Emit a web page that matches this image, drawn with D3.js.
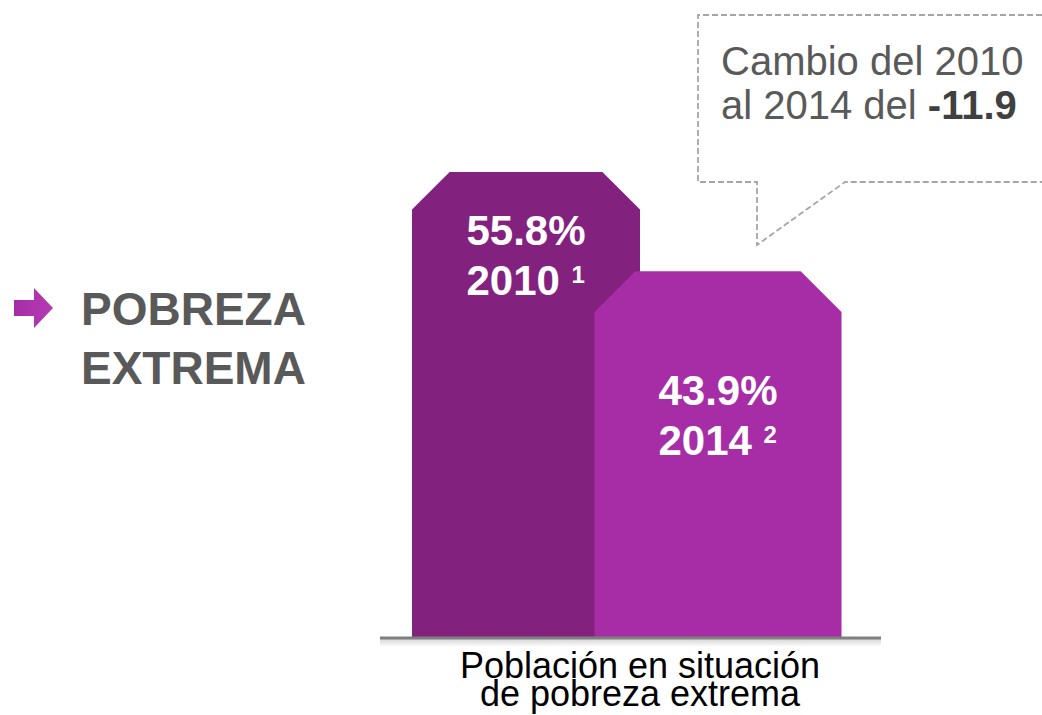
<!DOCTYPE html>
<html>
<head>
<meta charset="utf-8">
<script src="https://cdn.jsdelivr.net/npm/d3@7"></script>
<style>
  body { margin: 0; background: #fff; }
  svg { font-family: "Liberation Sans", Arial, sans-serif; display: block; }
</style>
</head>
<body>
<script>
// data
var years = ["2010", "2014"]
var values = [55.8, 43.9]
var notes = ["1", "2"]
var barColors = ["#83217f", "#a72da6"]
var category = ["Población en situación", "de pobreza extrema"]
var title = ["POBREZA", "EXTREMA"]
var change = -11.9

var svgWidth = 1042
var svgHeight = 715

var fmt = d3.formatLocale({decimal: ".", thousands: ",", grouping: [3], currency: ["", ""], minus: "-"}).format(".1f")

var svg = d3.select("body")
    .append("svg")
    .attr("width", svgWidth)
    .attr("height", svgHeight)

// scales
var y = d3.scaleLinear().domain([0, 60]).range([637, 137])
var x = d3.scalePoint().domain(years).range([526, 718])
var barWidths = [228, 247]
var labelOffsets = [73, 134]

var defs = svg.append("defs")
var shadow = defs.append("linearGradient")
    .attr("id", "shadow").attr("x1", 0).attr("x2", 0).attr("y1", 0).attr("y2", 1)
shadow.append("stop").attr("offset", "0%").attr("stop-color", "#000").attr("stop-opacity", 0.16)
shadow.append("stop").attr("offset", "100%").attr("stop-color", "#000").attr("stop-opacity", 0)

var arrowGrad = defs.append("linearGradient")
    .attr("id", "arrowGrad").attr("x1", 0).attr("x2", 1)
arrowGrad.append("stop").attr("offset", "0%").attr("stop-color", "#a72da6")
arrowGrad.append("stop").attr("offset", "100%").attr("stop-color", "#b43cb3")

// bars with chamfered tops
function barPath(d, i) {
    var w = barWidths[i]
    var l = x(years[i]) - w / 2, r = l + w
    var t = y(d), b = y(0)
    var c = w * 0.165
    return "M" + l + "," + b + "L" + l + "," + (t + c) + "L" + (l + c) + "," + t +
        "L" + (r - c) + "," + t + "L" + r + "," + (t + c) + "L" + r + "," + b + "Z"
}

svg.selectAll(".bar")
    .data(values)
    .enter().append("path")
    .attr("class", "bar")
    .attr("d", barPath)
    .attr("fill", (d, i) => barColors[i])

// value labels
svg.selectAll(".lbl")
    .data(values)
    .enter().append("g")
    .attr("class", "lbl")
    .each(function(d, i) {
        var g = d3.select(this)
        var cx = x(years[i])
        var ty = y(d) + labelOffsets[i]
        var v = g.append("text")
            .attr("x", cx)
            .attr("y", ty)
            .attr("text-anchor", "middle")
            .attr("fill", "#fff")
            .attr("font-weight", "bold")
            .attr("font-size", 42)
            .text(fmt(d) + "%")
        var left = cx - v.node().getComputedTextLength() / 2
        var yr = g.append("text")
            .attr("x", left)
            .attr("y", ty + 50)
            .attr("fill", "#fff")
            .attr("font-weight", "bold")
            .attr("font-size", 42)
        yr.append("tspan").text(years[i] + " ")
        yr.append("tspan")
            .attr("font-size", 24)
            .attr("dy", -12)
            .text(notes[i])
    })

// baseline with soft shadow
svg.append("rect")
    .attr("x", 380).attr("y", y(0) + 2)
    .attr("width", 501).attr("height", 8)
    .attr("fill", "url(#shadow)")
svg.append("line")
    .attr("x1", 380).attr("x2", 881)
    .attr("y1", y(0) + 1).attr("y2", y(0) + 1)
    .attr("stroke", "#7f7f7f")
    .attr("stroke-width", 3)

// category label
svg.append("g").selectAll("text")
    .data(category)
    .enter().append("text")
    .attr("x", 640)
    .attr("y", (d, i) => 678 + i * 28)
    .attr("text-anchor", "middle")
    .attr("font-size", 36)
    .attr("fill", "#000")
    .text(d => d)

// title with arrow
svg.append("path")
    .attr("d", "M14,300L34,300L34,288L53,308L34,328L34,316L14,316Z")
    .attr("fill", "url(#arrowGrad)")

svg.append("g").selectAll("text")
    .data(title)
    .enter().append("text")
    .attr("x", 81)
    .attr("y", (d, i) => 325 + i * 59)
    .attr("font-size", 46)
    .attr("font-weight", "bold")
    .attr("fill", "#595959")
    .text(d => d)

// callout
svg.append("path")
    .attr("d", "M1060,15L698,15L698,182L757,182L757,245L845,182L1060,182")
    .attr("fill", "none")
    .attr("stroke", "#a6a6a6")
    .attr("stroke-width", 1.8)
    .attr("stroke-dasharray", "6,3")

svg.append("text")
    .attr("x", 721).attr("y", 75)
    .attr("font-size", 40)
    .attr("fill", "#595959")
    .text("Cambio del " + years[0])

var t2 = svg.append("text")
    .attr("x", 721).attr("y", 119)
    .attr("font-size", 40)
    .attr("fill", "#595959")
t2.append("tspan").text("al " + years[1] + " del ")
t2.append("tspan").attr("font-weight", "bold").attr("fill", "#404040").text(fmt(change))
</script>
</body>
</html>
